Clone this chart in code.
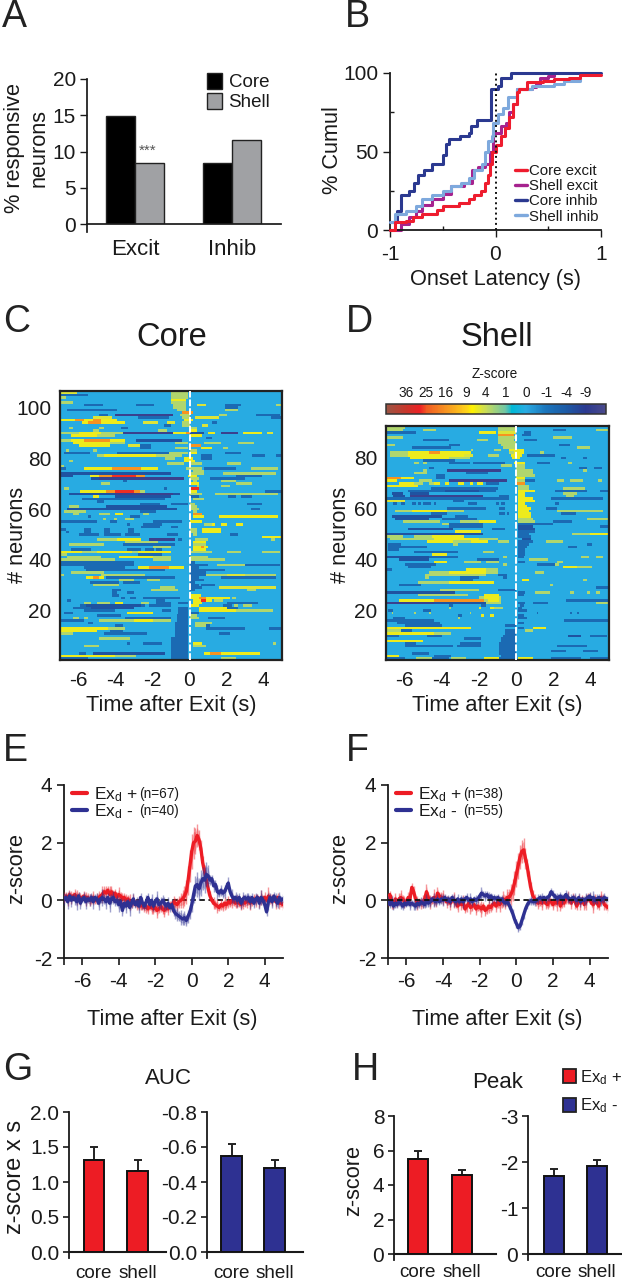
import numpy as np, pandas as pd, matplotlib
matplotlib.use("Agg")
import matplotlib.pyplot as plt, seaborn as sns
from matplotlib.transforms import Affine2D
from matplotlib.colors import LinearSegmentedColormap
from matplotlib.cm import ScalarMappable
from matplotlib.colors import Normalize
from matplotlib.patches import Patch
from matplotlib.lines import Line2D

sns.set_theme(style="ticks")
plt.rcParams.update({'font.family':['Liberation Sans','DejaVu Sans'],'mathtext.default':'regular',
    'axes.unicode_minus':False,
    'text.color':'#1a1a1a','axes.labelcolor':'#1a1a1a','xtick.color':'#1a1a1a','ytick.color':'#1a1a1a',
    'axes.edgecolor':'#1a1a1a'})

# ---- levels of the z-score map
G,L,Y,O,R=3,5,6,16,27
B,D,N,P=-1,-2,-5,-12

# ---- A
resp_groups=['Excit','Inhib']
resp_core=[14.9,8.4]
resp_shell=[8.4,11.6]
# ---- B (step vertices)
ci_t=[-1,-1,-.93,-.9,-.82,-.77,-.73,-.68,-.6,-.5,-.47,-.44,-.34,-.25,-.23,-.18,-.04,.02,.05,.15,1]
ci_y=[0,10,12,22,25,30,35,38,42,48,55,58,60,62,66,70,90,92,97,100,100]
si_t=[-1,-.95,-.85,-.75,-.7,-.6,-.5,-.42,-.33,-.25,-.2,-.13,-.1,-.07,-.03,-.02,.02,.07,.12,.2,.35,.55,.65,.8]
si_y=[5,10,12,15,20,22,25,28,30,33,38,42,50,57,60,68,74,78,85,90,92,93,95,97]
ce_t=[-1,-.95,-.85,-.78,-.7,-.55,-.5,-.35,-.3,-.25,-.2,-.14,-.1,-.07,-.05,-.03,0,.05,.09,.13,.17,.2,.22,.3,.45,.55,.7,.8,1]
ce_y=[0,5,6,8,10,13,15,17,17,20,22,25,30,35,42,50,54,60,65,72,80,88,90,94,95,96,97,98.5,98.5]
se_t=[-1,-.9,-.82,-.75,-.7,-.6,-.5,-.42,-.3,-.22,-.17,-.1,-.05,-.02,.05,.1,.13,.17,.2,.35,.38,.42,.5,.55]
se_y=[0,4,8,12,16,20,23,28,30,38,40,42,50,62,66,68,75,80,90,91,93,97,98,100]

# ---- C: one list per neuron, top row first: (from s, to s, z)
core_rows=[
[(-7,-6.1,L),(-1,-.1,G)],
[(-7,-5.5,D),(-1,-.1,G)],
[(-7,-6.7,G),(-1,-.1,G)],
[(-1,-.2,Y)],
[(-7,-6.3,G),(-1,-.2,G)],
[(-5.7,-4.7,D),(-2.9,-1.9,D),(-.9,-.2,G),(.4,.9,L),(1.9,2.8,D),(4.7,5,G)],
[(-.9,-.2,G),(1.9,2.6,D)],
[(-6.6,-3.9,D),(-.7,-.2,G),(1.9,2.6,G)],
[(-.4,.2,O)],
[(-4.9,-4.4,D),(-4,-.9,P),(-.5,0,G),(1.6,2,G),(3.6,4.9,D)],
[(-5.2,-4.2,L),(-2.8,-1.1,D),(-.4,0,G),(.3,1.6,L),(4.4,5,D)],
[(-7,-6.2,Y),(-6.2,-5.7,O),(-5.7,-5.2,Y),(-5.2,-4.8,O),(-4.8,-3.9,Y),(-.3,.2,Y)],
[(-5.8,-3.5,Y),(-5.5,-4.8,O),(-2.5,-1.7,L),(-1.2,-.85,L),(-.4,0,G),(1.2,1.5,D)],
[(-1.4,-1,D),(-.4,0,G),(.7,1,L)],
[(-6.5,-6.3,G),(-4.9,-4.6,G),(-3.7,-3.3,D),(0,.4,G)],
[(-5.2,-4.9,G),(-1.7,-1.2,G),(.05,.4,Y)],
[(-7,-3.6,G),(-6,-4.8,Y),(-3.6,-.9,P),(-.9,-.2,Y),(-.2,.05,O),(.05,.8,N),(1,1.45,Y),(1.7,2.6,P),(2.9,3.9,Y),(4.2,4.5,L)],
[(-6.4,-5,Y),(-5,-4,G),(0,.7,Y)],
[(.9,1.2,D)],
[(-7,-6.4,G),(-6.4,-5.7,Y),(-5.7,-4.3,O),(-4.3,-3.5,Y),(-2.9,-.4,N)],
[(-6.3,-4.3,Y),(-4.3,-3.5,G),(-.85,-.1,G),(.85,1.7,G),(2.6,3.5,G)],
[(-6,-4.3,Y),(-3.3,-2.7,L),(-2.7,-2.1,D),(0,.6,O)],
[(-.85,-.1,G),(.6,1.2,Y),(-2.7,-2.1,D),(1.8,2.1,G)],
[(-6.7,-6.5,G),(-5.2,-5,G),(0,.4,G)],
[(-6.8,-5.4,D),(-3.9,-1.1,D),(-1.1,-.1,G),(0,.4,Y),(1.9,2.8,D)],
[(-5,-4.6,G),(-4.6,-1.8,Y),(-1.8,-.4,G),(.6,1.2,D),(3.4,4.1,D),(4.7,5,D)],
[(-1.3,-.85,G),(-.3,.15,Y),(.6,1.2,D)],
[(-6.5,-6.3,G),(-.3,.3,Y)],
[(-1.2,-.3,G),(.05,.7,G),(1.95,2.8,G)],
[(-7,-6.8,G)],
[(-7,-6.7,D),(-5.7,-4.2,Y),(-4.2,-2.6,O),(-2.6,-1.7,Y),(-.2,.7,G),(.85,2.5,D),(3.3,4.8,G)],
[(.15,.8,G)],
[(-7,-1,N),(0,.8,G),(1.8,4.7,G)],
[(-7,-6.3,N),(-5.4,-4.9,Y),(-4.9,-4.2,O),(-4.2,-2.9,R),(-2.9,-2.4,O),(-.1,.4,Y),(2.5,3.9,D)],
[(-5.3,-4.9,N),(-4.9,-.3,P),(0,.5,G),(1.1,3,D)],
[(-3.6,-3.4,D),(.15,.4,G),(1.7,2.5,G)],
[(-4.8,-4.3,G),(.05,.5,Y),(2.5,3.4,G)],
[(.4,.5,G),(1.7,2.15,G)],
[(-6.8,-6.5,G),(-1.4,-1.2,D),(.05,.5,R)],
[(-5.9,-4.5,Y),(-4.5,-4,O),(-4,-3,R),(-3,-2.7,O),(-2.7,-2.4,G),(.05,.4,Y),(4.1,5,D)],
[(-6.5,-.5,N),(-4,-.9,P),(.05,.7,G),(1.4,4.8,G)],
[(-5.2,-4.9,Y),(-4,-1,N),(0,.5,D),(2.1,2.5,D),(2.8,3.4,D)],
[(-5.8,-1.3,D),(.15,.8,G)],
[(-5,-4.6,D)],
[(-2.7,-1.6,D),(-1,-.1,D),(3.1,3.9,D),(0,.3,G)],
[(-6.5,-6,G),(-4.5,-1.2,N),(.05,.4,G)],
[(-6.6,-.7,N),(.05,.5,G),(3.3,3.8,D)],
[(-6.8,-5.6,G),(-2.7,-1.85,D),(.15,.4,G)],
[(-6.3,-6,G),(-4.9,-4.3,G),(-4.05,-3.55,Y),(-2.5,-2.2,G),(.15,.7,O)],
[(-5.5,-5.3,D),(-3.2,-2.7,D),(.2,.8,Y),(1.6,4.8,Y)],
[(-4.7,-4.5,G),(-4.1,-3.9,G),(-3.5,-3,G)],
[(-7,-5,D),(-4.3,-3.9,D),(-2,-.4,D),(.05,.7,Y)],
[(-3.4,-3.2,D),(-2.5,-1.5,D),(.8,1.2,G),(1.2,1.4,Y),(1.7,1.95,Y),(2.5,2.9,Y)],
[(-2.6,-1.6,D),(-1,-.6,D)],
[(-7,-6.7,D),(-5.7,-5.3,D),(-4.6,-4.3,D),(-3.3,-3,D),(.05,.4,G),(.7,1.7,Y)],
[(-6.7,-6.5,D),(-5.7,-5.3,D),(-4.6,-4.3,D),(-3.3,-3,D),(.05,.4,G),(.7,1.7,Y)],
[(-6,-4.9,D),(-4.6,-3.7,D),(-3.5,-2.7,D),(-1.2,-.6,D),(.15,.4,G),(2.2,2.6,D)],
[(3.9,5,Y)],
[(-5,-3.9,G),(-3.9,-2.6,Y),(-2.2,-.85,P),(-.6,-.4,D),(.3,1,G),(4.4,4.6,G)],
[(-3.5,-1.7,G),(.15,.9,Y)],
[(-6.5,-4.6,G),(-3.6,-.75,D),(.15,.9,G)],
[(-2,-1,G),(.15,.7,Y),(.6,.8,O),(.8,1.05,Y)],
[(-6.4,-5.3,D),(-3.4,-2.6,D),(-2.4,-1.9,D),(-1.8,-1.5,D),(.15,.9,Y)],
[(-7,-5.8,Y),(-5.8,-5,G),(-5,-3.1,Y),(-3.1,-2.8,G),(-2.8,-1,Y),(.05,1.2,G),(2,2.85,G),(3.9,4.9,G)],
[(-7,-6.6,G),(-2.8,-1.85,G),(-2.8,-1.5,D)],
[(-6.6,-4.8,G),(-3.8,-2,Y),(-2,-1,G),(.05,1,G)],
[(-7,-4,G),(-2,-1,G),(.05,1.9,G)],
[(-7,-3,D),(.05,.3,D)],
[(-7,-3,D),(.05,1,D),(1.5,3.5,G),(3,4.9,D)],
[(-5.7,-3.5,D),(-2.8,-2.2,Y),(-2.2,-1.1,O),(-1.1,-.3,Y),(.05,.5,D)],
[(-5.6,-1.3,D),(.05,1.9,D)],
[(-6.4,-4.6,G),(.05,.9,D)],
[(-7,-6.8,G),(-4.8,-2.4,G),(.05,.9,D),(.9,2,G),(2,3,L),(3,4.7,G)],
[(-5.6,-4.6,Y),(-5.2,-4.9,O),(-4.5,-.85,D),(.05,.5,D),(1.7,4.7,D)],
[(-3.8,-3,G),(-2.3,-1.6,G),(.05,.8,D)],
[(-5.4,-3.8,D),(-3.6,-2.7,D),(.05,.3,D)],
[(-5.2,-3.8,G),(.05,.5,D),(.6,1.4,D)],
[(-1.6,-.85,G),(.05,.7,D),(1.6,4.7,L)],
[(-4.2,-3.7,D),(-2.1,-.6,G),(3.1,3.6,G),(.05,.3,D)],
[(-4.2,-3.9,D),(-3.4,-3,D)],
[(-4.2,-3.8,D),(.05,.6,Y)],
[(-3.7,-3.5,D),(-3.2,-2.9,D),(-2.5,-1.85,D),(-1.8,-.5,D),(.05,2.2,Y),(.5,.9,O),(2.3,2.5,G)],
[(-6.6,-6.4,D),(-1.8,-1.3,D),(.15,1.2,Y),(.6,.9,R),(1.3,1.8,G)],
[(-5.7,-5.3,G),(-5,-4.3,G),(-4,-3.6,Y),(-2.6,-2.2,G),(-1.8,-1,D),(-.6,-.1,D),(.15,.7,Y),(2,3.7,D)],
[(-5.9,-2.4,D),(-5.6,-2.6,N),(-2.2,-1,D),(.05,.5,Y),(1.8,2.3,D),(2.4,2.6,G),(2.9,3.4,G)],
[(-6.3,-5.3,D),(-5.3,-3,N),(-.6,-.1,D),(.5,2.1,Y),(2,2.6,D)],
[(-5.7,-4,D),(-1.5,-1,D),(-.6,-.1,D),(.5,2.5,Y),(2.5,4.5,G)],
[(-6.8,-6.3,D),(-3.4,-2,Y),(-.6,-.1,D),(.05,.5,D)],
[(-5,-3.7,D),(-.7,-.1,D),(.05,.4,G)],
[(-6.3,-6,G),(-5.7,-5.5,G),(-3.5,-1,D),(-.7,-.1,D),(.05,.5,G),(1,1.9,D)],
[(-7,-5.7,D),(-4.9,-1,G),(-3,-2,Y),(-.7,-.1,D)],
[(-5.5,-5.2,D),(-.8,-.1,D),(.3,1.2,G)],
[(-4,-3.6,D),(-.8,-.1,D),(.3,.9,G),(.9,1.1,D)],
[(-7,-4.4,Y),(-4.4,-3.5,G),(-.8,-.1,D),(.9,3,D),(4.3,5,D)],
[(-7,-5,Y),(-4.3,-3.6,D),(-.85,-.1,D)],
[(-7,-6.3,G),(-4.6,-2.3,D),(-.85,-.1,D),(1.6,2.2,D)],
[(-.85,-.1,D)],
[(-4.9,-3.2,G),(-.95,-.1,D)],
[(-.95,-.1,D)],
[(-3.4,-3.2,D),(-2.5,-1.5,D),(-.95,-.1,D),(.15,.7,Y),(4.5,4.7,G)],
[(-5.7,-4.9,G),(-.95,-.1,D),(.15,.9,G)],
[(-.95,-.1,D)],
[(-.95,-.1,D)],
[(-6,-5.6,D),(-5.2,-1.3,N),(-.95,-.1,D),(.8,3.8,Y),(1.1,1.7,O)],
[(-7,-4,Y),(-4,-2.9,G),(-.95,-.1,D)],
[(-7,-5.5,D),(-.95,-.1,D),(1.7,2.5,G)],
]

# ---- D: one list per neuron, top row first
shell_rows=[
[(-7,-6,G),(-1,0,G)],
[(-7,-6.1,G),(-5,-4.3,G),(-1,0,G),(2,2.7,D),(4.3,5,G)],
[(-7,-5.4,D),(-2,-1.1,Y),(-1,0,L),(.4,.8,D)],
[(-1,-.1,O),(.3,.8,D)],
[(-7,-6.1,G),(-1,0,G),(2,3,G)],
[(-5,-3.6,D),(-2.1,-1.5,G),(-1,-.1,G),(.4,1.1,D)],
[(-1,0,G)],
[(-7,-6.5,G),(-3.6,-3,D),(-.8,0,G),(2.3,2.9,D)],
[(-5.6,-3.5,D),(3.3,4,G),(-.7,0,G)],
[(-2.4,-2.3,G),(-1.2,-.8,G),(-.45,-.1,Y),(-.1,.4,Y)],
[(-6.8,-5.8,G),(-5.8,-2.4,Y),(-4.7,-4.1,O),(-.4,-.1,G),(-.1,.4,Y),(1.3,1.5,G)],
[(-6.8,-5.8,G),(-5.8,-2.8,Y),(-2.8,-2.3,L),(-1.5,-.9,G),(-.3,.3,Y),(.6,2.1,D)],
[(-5.7,-3.6,Y),(-3.6,-2.5,G),(-.2,.2,Y),(2.4,2.7,D),(3.6,3.8,D)],
[(-5,-3.3,D)],
[(-5.5,-5.2,G),(-5,-4.8,G),(-3.6,-2.5,D),(-2.3,-.6,D),(-.1,.5,Y),(1.1,1.8,D),(2.8,3,G)],
[(-.8,-.2,G),(0,.5,G)],
[(-4.7,-4.4,D),(0,.5,G),(3.4,3.8,D),(4.2,4.6,D)],
[(-5,-4.8,G),(-3.7,-.8,P),(0,.9,G),(3.6,3.8,G)],
[(-5.5,-4.8,G),(-2.7,-1.5,D),(0,.9,G)],
[(-4.3,-3.8,D),(0,1,G)],
[(-7,-6.2,O),(-6.2,-5.5,Y),(-4.3,-3.8,D),(0,.5,Y)],
[(-7,-6.4,Y),(-5.2,-4.5,G),(-3.6,-.5,P),(0,.5,G),(.5,1,D),(2.2,2.6,G),(2.9,3.6,G),(4.4,4.6,G)],
[(-6.3,-5.5,Y),(-5.5,-5,G),(-4.7,-4.4,G),(-4.4,-4.1,Y),(-3.8,-3.6,Y),(-3.1,-2.8,Y),(-2.5,-2.3,Y),(-2.1,-1.8,Y),(-1.6,-.9,D),(0,.5,O)],
[(-7,-5.3,Y),(.1,.7,G)],
[(-4.6,-1,D),(.1,.7,G),(2.5,3.7,G)],
[(-5.8,-1.1,D),(-3.8,-2,N),(.1,1,Y),(2.1,3.8,D),(4.5,5,D)],
[(-6.7,-6.1,N),(-5.7,-4.7,N),(.1,.5,Y),(2.5,3.3,G)],
[(-6.6,-6,N),(-5.7,-1.8,P),(-.9,-.4,D),(.1,.5,Y),(2.7,3.1,G)],
[(-7,-.4,D),(.1,.9,Y),(1.9,4.7,D)],
[(-7,-6,L),(-3.4,-2.8,D),(.1,1,Y)],
[(-6.6,-6.4,D),(-6.2,-6,D),(-5.6,-5.4,D),(-5.3,-5.1,D),(-5,-4.6,D),(-4.4,-4.3,D),(-2.6,-2.1,D),(-1.1,-.9,D),(-.8,-.6,D),(.1,.5,Y),(2.1,2.3,D)],
[(.1,.6,Y)],
[(-3.7,-1.6,D),(-.9,-.6,D),(.1,.8,Y),(1.6,2.2,D)],
[(-6.5,-5.6,G),(-5.6,-3.7,Y),(-3.7,-2.8,G),(.1,.7,Y),(2.2,4.7,G)],
[(-4.6,-3.7,D),(-.9,-.6,D),(-.5,-.4,D),(.1,.8,Y),(2.4,3.2,D)],
[(-6.7,-4,N),(-3.3,-2.6,D),(.1,.8,Y)],
[(-6.5,-4.7,N),(-4,-2.1,D),(.1,.9,G),(3.8,5,G)],
[(-6.1,-4.1,G),(-3,-2,G),(-2,-1.1,Y),(.1,1,G),(2,3,D)],
[(-4,-3,G),(-3.6,-1.8,D),(.1,2,D)],
[(-3.6,-1.8,D),(.1,.9,N),(4.5,5,D)],
[(-5.8,-3.4,N),(-1.3,-.6,D),(.1,1,N)],
[(-3.3,-1.9,Y),(.1,1,D)],
[(-7,-1.8,N),(.1,.7,D),(3,5,G),(4,5,Y)],
[(-7,-6.1,G),(-5.5,-4.5,G),(-4.5,-2.8,Y),(.1,.8,D)],
[(-6.8,-4.4,G),(-4.4,-2,Y),(-2,-1,G),(.3,.8,N)],
[(-4.8,-3.4,Y),(-3.4,-2.4,G),(-2.4,-1.5,Y),(-1,-.4,G),(.1,.9,D),(1.6,2.5,G)],
[(-6.9,-6.2,D),(-3.4,-3.1,G),(.1,.7,D),(3.8,4.1,D)],
[(-6.9,-4.8,D),(.1,.6,D),(2.8,3.3,D)],
[(-6.9,-6.3,D),(.1,.5,D)],
[(-5.5,-3.1,D),(-1.8,-1.2,G),(.1,.5,D)],
[(-4.5,-3.7,Y),(.1,.5,D)],
[(-7,-4.7,N),(-4.7,-3.1,D),(-.7,-.5,G),(.1,.4,D),(3.5,3.9,G),(4.3,4.7,G)],
[(-6.3,-4.7,N),(-2.1,-.9,D),(.7,1.7,G)],
[(-4.4,-3.7,Y),(-2.8,-1.9,G),(-1.6,-.9,G),(.1,.5,D),(2.2,2.5,G)],
[(-6,-4.3,D),(-.7,-.5,G),(1.1,2.1,D),(2.1,2.3,G)],
[(-5.8,-4.6,D),(2.5,3.3,Y),(3.3,4.1,G)],
[(-7,-6.7,D),(-2.7,-1.6,Y),(-1.6,-1,G)],
[(-4.7,-3.6,G),(-3.6,-1.6,Y),(-1.6,-1,G),(1,1.5,G)],
[(-4.9,-3.6,G),(-3.6,-1.6,G),(-1,-.5,D)],
[(-4.9,-4.7,G),(-3,-2,D),(-.7,-.5,D)],
[(-3,-2.3,D),(.3,.7,Y),(3.6,3.8,G)],
[(-5.3,-3.6,G),(-3.6,-1.2,Y)],
[(-6.3,-5.1,D),(1.8,2,G)],
[(4.3,5,D)],
[(-4.1,-2,G),(-1,0,D)],
[(-7,-3.3,N),(.1,.5,D),(1,1.8,G),(2.9,3.1,G),(3.8,4,G),(4.3,4.5,G)],
[(-5.3,-2.6,G),(-1.7,-.9,Y),(.1,.4,D)],
[(-2,-.8,G),(-1.7,-.9,Y)],
[(-6.3,-4.4,Y),(-4.4,-1.7,O),(-1.7,-.8,G),(-1.5,-.9,Y),(2.7,5,D)],
[(-7,-4.4,P),(-4.4,-1.6,N),(-1.6,-.8,G),(.1,.5,D),(.9,1.7,D),(4.3,5,G)],
[(-3.6,-3.4,D),(-1.9,-1.6,D),(.2,.4,D)],
[(-3.6,-3.5,G),(-2,-1.9,Y),(-1.4,-1.2,Y),(-1.2,-.7,G),(.1,.3,D)],
[(-6.9,-6.6,D),(-5,-4.6,D),(.1,.6,D)],
[(-6.7,-6.6,G),(-5.5,-5.4,G),(-4.7,-4.6,G),(-2.5,-2.4,G),(1.1,1.2,D),(2.9,3,D),(3.3,3.4,D)],
[(-1.9,-1.7,Y),(-1.4,-1.2,Y),(-3.1,-2.9,D),(.1,.4,D)],
[(-6.6,-6,D),(-3.1,-3,G),(.1,.6,D)],
[(-7,-4.4,D),(2.6,5,D)],
[(-6.4,-4.1,D),(.1,.4,D)],
[(-6,-4,D),(-.6,0,D)],
[(-7,-2.4,Y),(.9,1.6,Y),(.1,.4,D)],
[(-7,-6.2,G),(-6.2,-5.6,D),(-.6,0,D),(.5,.9,G)],
[(-7,-4.4,Y),(-4.4,-3.5,G),(-.6,0,D)],
[(-7,-6.3,D),(-4.8,-4,D),(-.7,0,D),(2.8,3.5,N),(4,4.9,D)],
[(-2.8,-1.9,D),(-.8,0,D)],
[(-7,-5,Y),(-.8,0,D)],
[(-6,-5.4,D),(-3,-1.9,D),(-.9,0,D)],
[(-6,-3.4,D),(-3.2,-1.9,D),(-.9,0,D),(2.2,3.8,D)],
[(-.9,0,D)],
[(-.9,0,D),(1.9,2.7,D),(3.6,4.4,D)],
[(-5.6,-4.7,D),(-.9,0,D)],
[(-7,-6.3,Y),(-4.4,-3.5,D),(-.8,0,D)],
[(-7,-6,D),(-5.4,-4.5,G),(-4.5,-3.6,D),(-3.5,-2.7,G),(-1.7,-.9,Y),(-.9,0,D),(.1,.9,Y),(1.9,3.5,D),(4,5,D)],
]
heat_labels=[36,25,16,9,4,1,0,-1,-4,-9]

# ---- E/F population traces, every 0.1 s from -7 s to 5 s
trace_t=[-7+i*0.1 for i in range(121)]
e_plus=[.1,.15,.05,.2,.1,.15,.2,.1,.15,.05,.1,.15,.05,.1,0,.05,.1,0,.05,.1,.15,.2,.3,.25,.35,.2,.3,.15,.25,.1,
.2,.15,.05,.1,0,.05,-.05,-.1,0,-.1,-.15,-.1,-.2,-.15,-.25,-.2,-.3,-.2,-.25,-.3,-.25,-.35,-.3,-.2,-.3,-.35,-.25,-.3,-.15,-.2,
-.05,-.1,-.15,-.05,0,.05,.15,.3,.7,1.2,1.7,2.0,2.05,2.25,2.1,1.8,1.3,1.0,.7,.4,.15,0,-.1,-.15,-.2,-.25,-.15,-.2,-.1,-.15,
-.05,-.1,0,-.05,-.1,-.05,-.1,-.15,-.05,-.1,-.05,0,-.1,-.05,.05,0,.1,-.05,.1,.05,.1,0,.15,.05,0,.1,-.05,.1,-.1,-.1,-.15]
e_minus=[.05,.1,-.05,.15,0,.1,.05,-.05,.15,-.1,.05,.1,-.05,.05,0,.1,-.05,.1,.05,-.1,.05,.1,.05,-.05,.1,-.1,.05,.1,-.05,0,
-.15,-.05,-.35,-.1,-.2,-.05,-.25,-.1,.05,-.15,-.05,-.2,.1,-.1,-.2,-.05,.1,-.15,0,-.2,-.05,.05,-.15,-.1,0,-.1,-.2,-.1,-.25,-.15,
-.35,-.45,-.5,-.55,-.6,-.65,-.6,-.7,-.55,-.4,-.15,.2,.5,.55,.4,.6,.75,.7,.9,.85,.7,.75,.5,.55,.3,.25,.35,.25,.3,.45,
.6,.3,.15,.05,.1,0,.1,-.1,.05,.1,.05,.1,-.05,.1,-.1,.05,.1,-.1,.1,0,-.15,-.4,-.05,.1,-.05,.15,0,-.1,.1,0,.05]
f_plus=[0,.2,-.05,-.15,.05,-.1,.05,.1,.05,-.05,-.05,.1,.05,.45,.3,.05,-.1,-.05,-.1,-.05,.05,.3,.1,-.05,0,.1,-.05,.25,.15,.1,
.1,.05,-.05,0,-.1,.05,0,-.1,-.2,-.05,-.15,-.05,-.3,-.2,-.1,-.25,-.2,-.15,-.3,-.2,-.25,-.3,-.2,-.35,-.3,-.2,-.25,-.15,-.1,-.2,
-.05,-.15,-.05,.05,-.05,.1,.1,.2,.35,.6,.9,1.2,1.5,1.7,1.75,1.45,1.15,.75,.4,.15,.05,-.05,-.1,-.05,-.1,0,-.1,-.15,0,-.05,
-.15,-.05,-.1,.05,-.2,-.05,-.1,.05,.1,0,-.1,.1,-.05,-.2,.05,-.1,.05,-.15,-.05,.1,.05,-.1,-.15,.05,-.1,-.2,.1,.05,-.15,-.2,-.25]
f_minus=[0,-.15,-.05,-.2,-.1,-.15,-.05,-.1,-.2,-.1,-.15,-.05,-.15,-.1,-.15,-.2,-.1,-.15,-.05,-.1,-.15,0,-.1,-.05,.05,0,-.05,.05,-.05,.05,
0,.1,0,.05,-.05,.1,0,-.05,.05,-.05,.05,-.05,.05,.1,0,.05,-.05,.05,0,.05,.15,.25,.2,.15,.2,.1,.15,.05,.1,.05,
.1,0,.05,-.05,-.1,-.05,-.15,-.3,-.45,-.65,-.8,-.95,-.9,-.7,-.5,-.3,-.15,-.05,0,-.05,-.05,0,.05,.1,.05,.1,.05,.1,.15,.3,
.2,.15,.05,.1,.15,.05,.1,.2,.1,.05,.05,.1,.05,0,.1,-.05,.05,0,.05,.1,.15,.05,.1,0,.05,.1,0,.05,.1,.05,.05]
# error half-widths: first 6 s, 2 s around the peak, last 4 s
sem_head=[.2,.14,.24,.16,.22,.13,.2,.27,.15,.2,.12,.18,.25,.14,.21,.16,.24,.13,.19,.22,
.15,.28,.18,.24,.14,.3,.18,.22,.15,.2,.26,.13,.2,.16,.23,.14,.28,.17,.21,.13,
.18,.25,.15,.2,.14,.24,.17,.13,.22,.18,.15,.27,.14,.2,.17,.23,.15,.2,.14,.19]
sem_tail=[.18,.13,.21,.15,.24,.12,.19,.16,.22,.14,.2,.13,.26,.15,.18,.22,.14,.19,.24,.13,
.2,.16,.25,.14,.18,.22,.13,.2,.27,.15,.19,.14,.3,.17,.21,.13,.24,.16,.2,.14,.18]
e_plus_sem=sem_head+[.2,.18,.22,.2,.25,.3,.35,.42,.5,.55,.6,.55,.45,.4,.35,.3,.25,.22,.2,.22]+sem_tail
e_minus_sem=sem_head+[.18,.2,.22,.18,.25,.2,.24,.2,.22,.25,.24,.3,.35,.42,.38,.45,.4,.45,.42,.38]+sem_tail
f_plus_sem=sem_head+[.22,.25,.2,.28,.25,.3,.28,.35,.38,.42,.45,.45,.42,.4,.42,.35,.3,.28,.22,.2]+sem_tail
f_minus_sem=[v*.8 for v in sem_head]+[.12,.14,.12,.15,.14,.12,.15,.14,.16,.14,.15,.16,.14,.15,.14,.12,.14,.12,.15,.12]+[v*.8 for v in sem_tail]

# ---- G/H
conds=['core','shell']
auc_plus=[1.32,1.16];  auc_plus_err=[.18,.15]
auc_minus=[-.55,-.48];   auc_minus_err=[.065,.045]
peak_plus=[5.5,4.6];   peak_plus_err=[.5,.28]
peak_minus=[-1.7,-1.92]; peak_minus_err=[.14,.12]

RED,NAVY='#ed1c24','#2e3192'
LAB=15.7
W,H=622,1280
fig=plt.figure(figsize=(W/100,H/100),dpi=100,facecolor='white')
PX=Affine2D().scale(1,-1).translate(0,H)
def mk(l,t,r,b):
    return fig.add_axes([l/W,1-b/H,(r-l)/W,(b-t)/H])
def txt(x,y,s,size=14.4,**k):
    k.setdefault('ha','center');k.setdefault('va','center')
    return fig.text(x,y,s,transform=PX,fontsize=size,**k)
def labels(ax,xl=None,xp=None,yl=None,yp=None,size=LAB,**k):
    if xl:
        ax.set_xlabel(xl,fontsize=size,va='center',ha='center'); ax.xaxis.set_label_coords(*xp,transform=PX)
    if yl:
        ax.set_ylabel(yl,fontsize=size,va='center',ha='center',rotation=90,**k); ax.yaxis.set_label_coords(*yp,transform=PX)

for s,x,y in [('A',2,27),('B',345,27),('C',3,332),('D',346,332),('E',3,761),('F',346,761),('G',3,1080),('H',352,1080)]:
    txt(x,y,s,size=27,color='#222222',ha='left',va='baseline')
txt(172,338,'Core',size=23.5); txt(497,338,'Shell',size=23.5)

# ---------- A
ax=mk(87,79,281,224)
df=pd.DataFrame({'g':resp_groups*2,'v':resp_core+resp_shell,'r':['Core']*2+['Shell']*2})
sns.barplot(df,x='g',y='v',hue='r',palette=['#000000','#a0a1a4'],width=.6,gap=0,edgecolor='#222222',linewidth=1,legend=False,ax=ax)
ax.set_xlim(-.495,1.505);ax.set_ylim(0,20)
ax.set_xlabel('')
ax.set_yticks([0,5,10,15,20]);ax.tick_params(axis='y',labelsize=15,length=5,width=1,pad=3)
ax.tick_params(axis='x',length=0,labelsize=16,pad=11)
sns.despine(ax=ax);ax.spines['left'].set_bounds(-1.1,20)
labels(ax,yl='% responsive\nneurons',yp=(27,148),linespacing=1.25)
ax.text(148,151,'***',transform=PX,ha='center',va='center',fontsize=11,color='#555555')
ax.legend(handles=[Patch(fc='#000000',ec='#222222',label='Core'),Patch(fc='#a0a1a4',ec='#222222',label='Shell')],
    bbox_to_anchor=(207,73),bbox_transform=PX,loc='upper left',frameon=False,fontsize=13.5,handlelength=.8,handleheight=.9,
    handletextpad=.35,labelspacing=.1,borderpad=0,borderaxespad=0)

# ---------- B
ax=mk(390,73,601,230)
for t,y,c,n,z in [(se_t,se_y,'#a6228e','Shell excit',2),(si_t,si_y,'#7ea9dd','Shell inhib',4),(ci_t,ci_y,'#2b3990','Core inhib',3),(ce_t,ce_y,'#ee1c2e','Core excit',5)]:
    sns.lineplot(x=t,y=y,color=c,lw=2.2,drawstyle='steps-post',errorbar=None,sort=False,ax=ax,zorder=z,clip_on=False)
ax.axvline(0,color='#111111',ls=':',lw=1.4,zorder=6)
ax.set_xlim(-1,1);ax.set_ylim(0,100)
ax.set_xticks([-1,0,1]);ax.set_yticks([0,50,100])
ax.set_xticks([-.5,.5],minor=True);ax.set_yticks([25,75],minor=True)
ax.tick_params(labelsize=15,length=5,width=1);ax.tick_params(which='minor',direction='in',length=3,width=1)
ax.tick_params(axis='x',pad=6)
sns.despine(ax=ax)
for sp in ax.spines.values(): sp.set_linewidth(1.3)
labels(ax,xl='Onset Latency (s)',xp=(495,279),yl='% Cumul',yp=(333,150))
ax.legend(handles=[Line2D([],[],color=c,lw=2.4,label=n) for c,n in [('#ee1c2e','Core excit'),('#a6228e','Shell excit'),('#2b3990','Core inhib'),('#7ea9dd','Shell inhib')]],
    bbox_to_anchor=(515,164),bbox_transform=PX,loc='upper left',frameon=False,fontsize=10.8,handlelength=.8,handletextpad=.15,labelspacing=.08,borderpad=0,borderaxespad=0)

# ---------- C, D
cmap=LinearSegmentedColormap.from_list('zs',[(0,'#4b4a8c'),(1/11,'#2b3990'),(2/11,'#1c5ba6'),(3/11,'#1b75bc'),(4/11,'#29abe2'),
    (4.7/11,'#00b9d6'),(5/11,'#6cc5a8'),(6/11,'#c8dc5a'),(6.7/11,'#fff200'),(7/11,'#ffd21a'),(8/11,'#f79420'),(9/11,'#f15a22'),(9.3/11,'#ee2024'),(10/11,'#c8362b'),(1,'#9c5544')])
def heat(ax,rows,yt,ylab,ypx):
    m=np.zeros((len(rows),120))
    for i,segs in enumerate(rows):
        for a,b,z in segs:
            m[i,int(round((a+7)*10)):int(round((b+7)*10))]=np.sign(z)*np.sqrt(abs(z))
    sns.heatmap(m,ax=ax,cmap=cmap,vmin=-4,vmax=7,cbar=False,xticklabels=False,yticklabels=False,rasterized=True)
    n=len(rows)
    ax.set_xticks([(t+7)*10 for t in [-6,-4,-2,0,2,4]]);ax.set_xticklabels(['-6','-4','-2','0','2','4'])
    ax.set_yticks([n-v+.5 for v in yt]);ax.set_yticklabels([str(v) for v in yt],rotation=0)
    ax.tick_params(direction='in',length=4,width=1.3,top=True,right=True,labelsize=15,color='#111111',pad=6)
    ax.tick_params(axis='x',pad=8)
    for sp in ax.spines.values(): sp.set_visible(True);sp.set_linewidth(1.6);sp.set_color('#222222')
    ax.axvline(70,color='white',lw=1.4,ls=(0,(3.5,1)),zorder=5)
    labels(ax,xl='Time after Exit (s)',xp=((ax.get_position().x0+ax.get_position().x1)/2*W,705),yl='# neurons',yp=(ypx,535))
heat(mk(60,391,282,660),core_rows,[20,40,60,80,100],'# neurons',18)
heat(mk(386,426,609,660),shell_rows,[20,40,60,80],'# neurons',341)
cax=mk(386,404,606,414)
cb=fig.colorbar(ScalarMappable(Normalize(-4,7),cmap),cax=cax,orientation='horizontal')
cax.invert_xaxis()
cax.set_xticks([np.sign(v)*np.sqrt(abs(v)) for v in heat_labels]);cax.set_xticklabels([str(v) for v in heat_labels])
cax.xaxis.set_ticks_position('top')
cax.tick_params(direction='in',length=2,width=.8,labelsize=9.8,pad=3)
cb.outline.set_linewidth(1.1);cb.outline.set_edgecolor('#333333')
txt(495,374,'Z-score',size=9.8)

# ---------- E, F
def trace(l,r,plus,minus,psem,msem,np_,nm_,yl_x,front):
    ax=mk(l,785,r,958)
    for y,sem,c,z in [(plus,psem,RED,3),(minus,msem,NAVY,4)]:
        y=np.array(y);sem=np.array(sem)
        ax.fill_between(trace_t,y-sem*.7,y+sem*.7,color=c,alpha=.3,lw=0,zorder=z)
        ax.vlines(trace_t,y-sem,y+sem,color=c,alpha=.45,lw=1,zorder=z)
        sns.lineplot(x=trace_t,y=y,color=c,lw=2.4,errorbar=None,ax=ax,zorder=z)
    ax.axhline(0,color='#111111',ls=(0,(3,2)),lw=1.3,zorder=6 if front else 2)
    ax.set_xlim(-7,5);ax.set_ylim(-2,4)
    ax.set_xticks([-7,-6,-4,-2,0,2,4]);ax.set_xticklabels(['','-6','-4','-2','0','2','4'])
    ax.set_yticks([-2,0,2,4])
    ax.tick_params(labelsize=15,length=5,width=1.2);ax.tick_params(axis='x',pad=5)
    sns.despine(ax=ax)
    for sp in ['left','bottom']: ax.spines[sp].set_linewidth(1.3)
    labels(ax,xl='Time after Exit (s)',xp=((l+r)/2-1,1020),yl='z-score',yp=(yl_x,868))
    ax.legend(handles=[Line2D([],[],color=RED,lw=3,label='Ex$_{d}$ +'),Line2D([],[],color=NAVY,lw=3,label='Ex$_{d}$ -')],
        bbox_to_anchor=(l+8,785),bbox_transform=PX,loc='upper left',frameon=False,fontsize=12.5,handlelength=.85,handletextpad=.4,labelspacing=-.1,borderpad=0,borderaxespad=0)
    txt(l+75,794,np_,size=9.8,ha='left');txt(l+75,811,nm_,size=9.8,ha='left')
trace(64,283,e_plus,e_minus,e_plus_sem,e_minus_sem,'(n=67)','(n=40)',17,False)
trace(388,608,f_plus,f_minus,f_plus_sem,f_minus_sem,'(n=38)','(n=55)',340,True)

# ---------- G, H
def bars(l,r,t,b,c0,c1,vals,errs,color,ylim,ticks,tl,yl=None,ypx=None,yp=None,ysize=LAB):
    ax=mk(l,t,r,b)
    u=c1-c0
    sns.barplot(x=conds,y=vals,color=color,width=20.5/u,saturation=1,edgecolor='#111111',linewidth=1.4,ax=ax,zorder=3)
    yerr=[[0,0],errs] if vals[0]>0 else [errs,[0,0]]
    ax.errorbar([0,1],vals,yerr=yerr,fmt='none',ecolor='#222222',elinewidth=1.4,capsize=3.2,capthick=1.4,zorder=2)
    ax.set_xlim((l-c0)/u,(r-c0)/u);ax.set_ylim(*ylim)
    ax.set_yticks(ticks);ax.set_yticklabels(tl)
    ax.tick_params(axis='y',labelsize=15,length=4,width=1.2,pad=3)
    ax.tick_params(axis='x',length=0,labelsize=13.6,pad=1254+7-b)
    sns.despine(ax=ax)
    ax.spines['left'].set_linewidth(1.3);ax.spines['bottom'].set_linewidth(1.5)
    lo=ylim[0]-(ylim[1]-ylim[0])*.045
    ax.spines['left'].set_bounds(lo,ylim[1])
    if yl: labels(ax,yl=yl,yp=(ypx,yp),size=ysize)
    return ax
bars(69,166,1112,1252,94,137.5,auc_plus,auc_plus_err,RED,(0,2),[0,.5,1,1.5,2],['0.0','0.5','1.0','1.5','2.0'],'z-score x s',15,1177,ysize=17)
bars(207,303,1112,1252,231.5,274.5,auc_minus,auc_minus_err,NAVY,(0,-.8),[0,-.2,-.4,-.6,-.8],['0.0','-0.2','-0.4','-0.6','-0.8'])
bars(394,496,1116,1254,418,462,peak_plus,peak_plus_err,RED,(0,8),[0,2,4,6,8],['0','2','4','6','8'],'z-score',354,1180)
bars(528,622,1116,1254,554,597,peak_minus,peak_minus_err,NAVY,(0,-3),[0,-1,-2,-3],['0','-1','-2','-3'])
txt(168,1078,'AUC',size=16);txt(498,1082,'Peak',size=16)
fig.legend(handles=[Patch(fc=RED,ec='#222222',lw=1.3,label='Ex$_{d}$ +'),Patch(fc=NAVY,ec='#222222',lw=1.3,label='Ex$_{d}$ -')],
    bbox_to_anchor=(563,1068),bbox_transform=PX,loc='upper left',frameon=False,fontsize=12,handlelength=.8,handleheight=.95,handletextpad=.25,labelspacing=.6,borderpad=0,borderaxespad=0)
fig.savefig('out.png',dpi=100)
